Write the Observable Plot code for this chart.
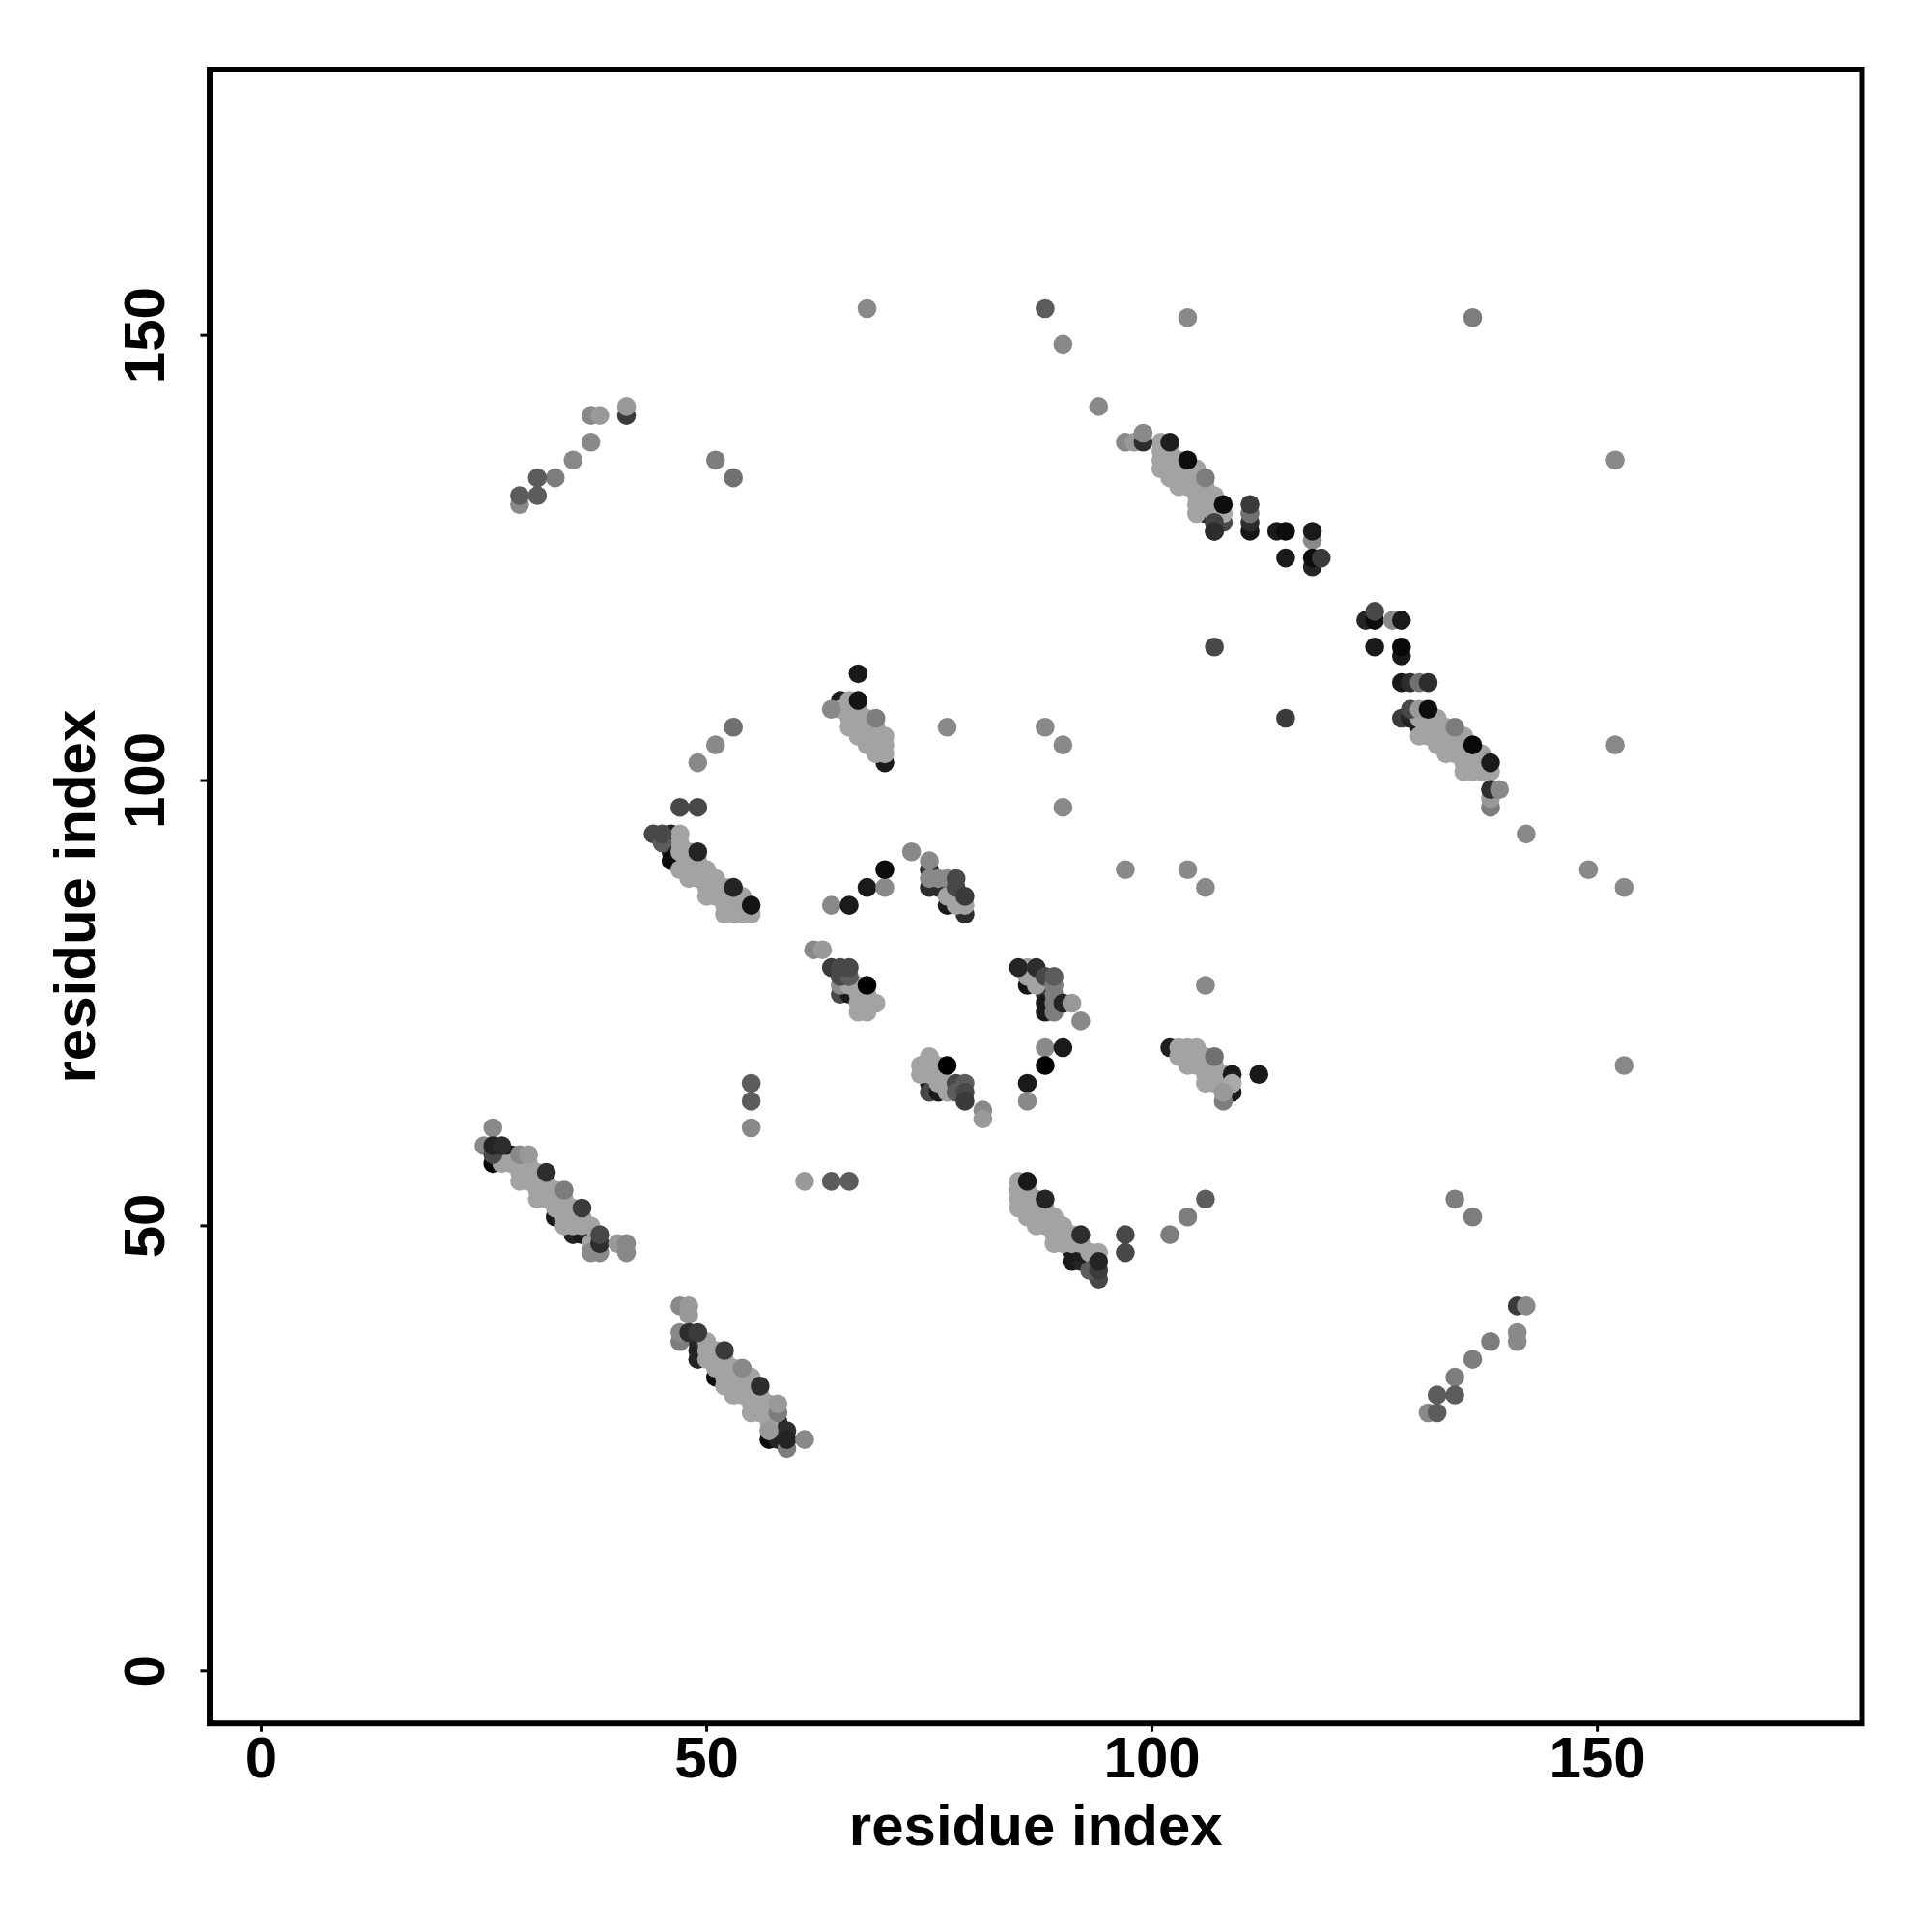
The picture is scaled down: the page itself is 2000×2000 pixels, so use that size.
<!DOCTYPE html>
<html>
<head>
<meta charset="utf-8">
<style>html,body{margin:0;padding:0;background:#fff}</style>
<script src="https://cdn.jsdelivr.net/npm/d3@7"></script>
<script src="https://cdn.jsdelivr.net/npm/@observablehq/plot@0.6"></script>
</head>
<body>
<script>
// [residue x, residue y, contact score] – score maps dark → light
const lowerContacts = [
[26,57,.03],[27,58,.2],[28,58,.1],[33,51,.1],[35,49,.15],[36,49,.1],[37,49,.1],
[49,37,.15],[49,36,.15],[49,35,.15],[51,33,.05],[57,26,.05],[58,28,.15],[58,27,.2],[58,26,.15],
[91,46,.1],[92,46,.15],[93,46,.15],[91,47,.1],[92,47,.12],
[46,94,.15],[46,93,.1],[46,92,.1],[46,91,.05],[47,91,.05],
[65,109,.12],[70,102,.1],
[106,130,.15],[107,129,.3],[107,128,.2],[108,129,.3],
[128,107,.25],[130,106,.1],[129,107,.15],
[65,76,.3],[66,76,.1],[65,77,.5],
[75,66,.1],[75,65,.3],[76,65,.1],
[86,77,.08],[88,77,0],[88,76,.25],[88,75,.1],[88,74,.1],
[102,70,.12],[109,65,.1],[108,64,.45],
[77,88,.05],[77,86,.1],[76,88,.2],[75,90,.2],[75,88,.2],[79,85,.2]
];
const lightContacts = [
[27,57],[28,57],
[29,57],[29,56],[29,55],[30,57],[30,56],[30,55],[31,56],[31,55],[31,54],[31,53],
[32,55],[32,54],[32,53],[33,54],[33,53],[33,52],[34,53],[34,52],[34,51],[34,50],
[35,52],[35,51],[35,50],[36,51],[36,50],[37,50],[37,48],
[50,37],[50,36],[50,35],[51,36],[51,35],[51,34],[52,35],[52,34],[52,33],[52,32],
[53,34],[53,33],[53,32],[53,31],[54,33],[54,32],[54,31],[55,33],[55,32],[55,31],[55,30],[55,29],
[56,31],[56,30],[56,29],[57,30],[57,29],[57,28],[57,27],
[85,55],[85,54],[85,53],[85,52],[86,54],[86,53],[86,52],[86,51],[87,53],[87,52],[87,51],[87,50],
[88,52],[88,51],[88,50],[89,51],[89,50],[89,49],[89,48],[90,50],[90,49],[90,48],[91,49],[91,48],
[92,48],[93,47],[94,47],
[47,94],[47,93],[47,92],[47,90],[48,92],[48,91],[48,90],[48,89],[49,91],[49,90],[49,89],
[50,90],[50,89],[50,88],[50,87],[51,89],[51,88],[51,87],[52,88],[52,87],[52,86],[52,85],
[53,87],[53,86],[53,85],[54,87],[54,86],[54,85],[55,85],
[65,108],[66,109],[66,108],[66,107],[66,106],[67,108],[67,107],[67,106],[67,105],
[68,107],[68,106],[68,105],[68,104],[69,106],[69,105],[69,104],[69,103],[70,105],[70,104],[70,103],
[101,138],[101,137],[101,136],[101,135],[102,137],[102,136],[102,135],[102,134],
[103,136],[103,135],[103,134],[103,133],[104,135],[104,134],[104,133],
[105,135],[105,134],[105,133],[105,132],[105,131],[105,130],[106,133],[106,132],[106,131],
[107,132],[107,131],[107,130],
[130,107],[130,105],[131,107],[131,106],[131,105],[132,107],[132,106],[132,105],[132,104],
[133,106],[133,105],[133,104],[133,103],[134,105],[134,104],[134,103],
[135,105],[135,104],[135,103],[135,102],[135,101],[136,103],[136,102],[136,101],
[137,103],[137,102],[137,101],[138,101],
[66,77],[67,77],[67,76],[67,75],[67,74],[68,76],[68,75],[68,74],[69,75],
[74,68],[74,67],[75,69],[75,68],[75,67],[76,67],[76,66],[77,66],[76,68],[77,65],
[86,79],[86,78],[87,78],[87,77],
[103,70],[103,69],[104,70],[104,69],[104,68],[105,70],[105,69],[105,68],
[106,69],[106,68],[106,67],[106,66],[107,68],[107,67],[107,66],[108,67],[108,66],[108,65],[109,66],
[77,87],[78,86],[79,86]
];
const upperContacts = [
[68,153,.5],[88,153,.35],[104,152,.5],[136,152,.45],[90,149,.5],[94,142,.5],
[41,141,.25],[41,142,.55],[37,141,.5],[38,141,.55],[37,138,.5],[35,136,.5],[33,134,.45],
[31,134,.35],[31,132,.35],[29,131,.5],[29,132,.35],[51,136,.45],[53,134,.4],[152,136,.5],
[97,138,.5],[98,138,.55],[99,138,.2],[99,139,.5],[102,138,.12],[104,136,.05],[106,134,.45],
[108,130,.6],[108,131,.05],[107,129,.28],[107,128,.2],
[111,128,.08],[111,129,.2],[111,130,.4],[111,131,.25],[114,128,.1],[115,128,.05],[115,125,.1],
[118,127,.5],[118,128,.1],[118,124,.15],[118,125,.05],[119,125,.25],
[124,118,.15],[125,118,.05],[125,119,.3],[127,118,.5],[128,118,.1],[125,115,.1],[128,114,.1],[128,115,.03],
[128,111,.1],[129,111,.2],[130,111,.4],[131,111,.2],
[129,108,.3],[130,108,.55],[131,108,.05],[134,106,.45],[136,104,.03],[138,102,.1],
[138,97,.45],[138,98,.55],[138,99,.2],[139,99,.5],
[142,94,.5],[149,90,.5],[153,88,.5],[152,104,.5],[153,68,.5],[107,115,.3],[115,107,.25],
[86,55,.1],[88,53,.15],[92,49,.2],[97,49,.3],[97,47,.3],[94,44,.3],[93,45,.35],[94,45,.25],[94,46,.15],
[25,59,.5],[26,61,.5],[26,58,.3],[26,59,.15],[27,59,.2],[29,58,.5],[30,58,.55],
[32,56,.2],[34,54,.45],[36,52,.25],
[38,47,.5],[37,47,.5],[38,48,.2],[38,49,.3],[40,48,.55],[41,47,.5],[41,48,.5],
[47,41,.5],[48,41,.55],[48,40,.55],[47,37,.45],[47,38,.5],[48,38,.2],[49,38,.25],
[52,36,.25],[54,34,.5],[56,32,.2],[58,29,.45],[58,30,.55],[59,25,.45],[59,27,.2],[59,26,.15],[61,26,.5],
[57,27,.55],
[44,94,.3],[45,93,.35],[45,94,.3],[47,97,.3],[49,97,.3],[49,92,.15],[53,88,.15],[55,86,.08],
[49,102,.5],[51,104,.5],[53,106,.4],
[64,108,.5],[67,112,.1],[67,109,.08],[69,107,.45],
[64,86,.5],[66,86,.1],[68,88,.1],[70,88,.5],[70,90,.05],[73,92,.5],
[75,89,.5],[75,91,.5],[76,89,.5],[77,89,.5],[78,88,.3],[78,89,.3],[79,87,.25],
[62,81,.5],[63,81,.55],[64,79,.25],[65,78,.3],[66,78,.35],[65,79,.3],[66,79,.3],[68,77,0],
[77,68,0],[78,66,.3],[79,66,.35],[78,65,.35],[79,65,.3],[79,64,.25],[81,63,.5],[81,62,.55],
[85,79,.15],[87,79,.2],[88,78,.3],[89,74,.45],[89,75,.45],[89,76,.45],[89,77,.45],[89,78,.35],
[90,75,.15],[91,75,.55],[92,73,.5],[88,70,.5],[90,70,.1],[88,68,0],[86,66,.1],[86,64,.5],
[107,69,.4],[109,67,.1],[112,67,.1],[109,66,.6],[108,65,.55],
[55,66,.35],[55,64,.35],[55,61,.5],[61,55,.55],[64,55,.35],[66,55,.35],
[77,106,.5],[88,106,.5],[90,104,.5],[90,97,.5],[97,90,.5],[104,90,.5],[106,88,.5],[106,77,.5],
[102,49,.45],[104,51,.45],[106,53,.35],[134,53,.45],[136,51,.45],
[141,41,.25],[142,41,.5],[141,38,.5],[141,37,.5],[138,37,.45],[136,35,.45],[134,33,.45],
[134,31,.35],[132,31,.35],[131,29,.5],[132,29,.35]
];
const lightScore = 0.58;
const axisTicks = [0, 50, 100, 150];
const axisTitle = "residue index";

const contacts = [
  ...lowerContacts.map(([x, y, s]) => ({x, y, s})),
  ...lightContacts.map(([x, y]) => ({x, y, s: lightScore})),
  ...upperContacts.map(([x, y, s]) => ({x, y, s}))
];

const chart = Plot.plot({
  width: 2000,
  height: 2000,
  marginLeft: 216.5,
  marginRight: 73,
  marginTop: 71.5,
  marginBottom: 216.3,
  style: {background: "#fff", fontFamily: "'Liberation Sans', Arial, sans-serif", color: "#000"},
  x: {domain: [-5.8, 179.7]},
  y: {domain: [-5.9, 179.85]},
  color: {
    type: "linear",
    domain: [0, .1, .2, .3, .4, .5, .58],
    range: ["#000000", "#1a1a1a", "#2d2d2d", "#484848", "#707070", "#898989", "#a3a3a3"]
  },
  marks: [
    Plot.dot(contacts, {x: "x", y: "y", r: 9.8, fill: "s"}),
    Plot.frame({stroke: "#000", strokeWidth: 6}),
    Plot.axisX(axisTicks, {
      anchor: "bottom", tickSize: 9, tickPadding: 4, strokeWidth: 3,
      fontSize: 60, fontWeight: "bold", label: axisTitle, labelAnchor: "center",
      labelArrow: "none", labelOffset: 126
    }),
    Plot.axisY(axisTicks, {
      anchor: "left", tickSize: 9, tickPadding: 38, strokeWidth: 3, tickRotate: -90,
      fontSize: 60, fontWeight: "bold", label: axisTitle, labelAnchor: "center",
      labelArrow: "none", labelOffset: 162
    })
  ]
});
document.body.appendChild(chart);
</script>
</body>
</html>
